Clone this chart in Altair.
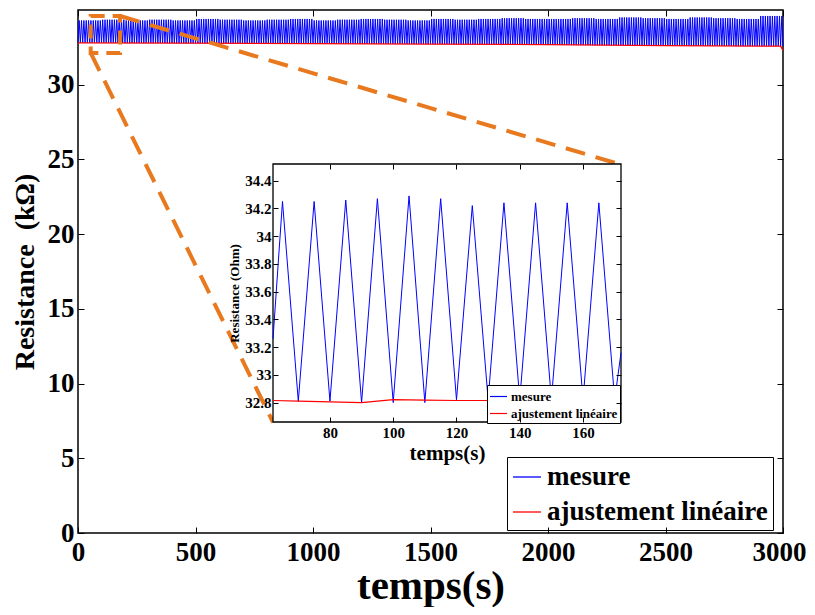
import altair as alt
import pandas as pd

FONT = "Liberation Serif"
ORANGE = "#E8791F"
BLUE = "#0000FF"
RED = "#FF0000"
SERIES = ["mesure", "ajustement linéaire"]

# ---------------- main chart values ----------------
# oscillation period 10 s: troughs at multiples of 10 s, peaks in between
main_window_s = 100
main_peak_levels = [34.30, 34.35, 34.30, 34.35, 34.30, 34.40, 34.35, 34.30, 34.35, 34.40,
                    34.30, 34.35, 34.40, 34.35, 34.30, 34.40, 34.35, 34.40, 34.45, 34.40,
                    34.40, 34.45, 34.40, 34.50, 34.45, 34.40, 34.50, 34.45, 34.40, 34.60]
main_trough_levels = [32.80, 32.80, 32.78, 32.78, 32.77, 32.77, 32.76, 32.76, 32.75, 32.75,
                      32.74, 32.74, 32.73, 32.73, 32.72, 32.72, 32.71, 32.70, 32.70, 32.68,
                      32.66, 32.65, 32.64, 32.63, 32.62, 32.60, 32.60, 32.60, 32.58, 32.58]
main_fit_t = [0, 500, 1000, 1500, 2000, 2500, 2990, 3000]
main_fit_v = [32.80, 32.78, 32.75, 32.72, 32.68, 32.62, 32.58, 32.30]

# ---------------- inset values ----------------
inset_peak_t = [65, 75, 85, 95, 105, 115, 125, 135, 145, 155, 165]
inset_peak_v = [34.25, 34.25, 34.26, 34.27, 34.29, 34.27, 34.22, 34.24, 34.24, 34.24, 34.24]
inset_trough_t = [70, 80, 90, 100, 110, 120, 130, 140, 150, 160, 170]
inset_trough_v = [32.81, 32.81, 32.80, 32.80, 32.80, 32.82, 32.82, 32.82, 32.82, 32.82, 32.82]
inset_start = [62, 33.26]
inset_end = [172, 33.16]
inset_fit_t = [62, 70, 80, 90, 100, 110, 120, 130, 172]
inset_fit_v = [32.815, 32.81, 32.805, 32.80, 32.822, 32.818, 32.815, 32.815, 32.815]

# ticks
main_x_ticks = [0, 500, 1000, 1500, 2000, 2500, 3000]
main_y_ticks = [0, 5, 10, 15, 20, 25, 30]
inset_x_ticks = [80, 100, 120, 140, 160]
inset_y_ticks = [32.8, 33.0, 33.2, 33.4, 33.6, 33.8, 34.0, 34.2, 34.4]

# zoom annotation (main-chart data coordinates)
zoom_x = [54, 179]
zoom_y = [32.13, 34.6]
conn_x = [54, 179]
conn_y = [32.13, 34.6]
conn_x2 = [830, 2311]
conn_y2 = [7.41, 24.65]

# ---------------- tables ----------------
mt, mv = [], []
for w in range(len(main_peak_levels)):
    for k in range(main_window_s // 10):
        t0 = w * main_window_s + 10 * k
        mt += [t0, t0 + 5]
        mv += [main_trough_levels[w], main_peak_levels[w]]
mt.append(3000)
mv.append(main_trough_levels[-1])
main_meas = pd.DataFrame({"t": mt, "R": mv, "s": SERIES[0]})
main_fit = pd.DataFrame({"t": main_fit_t, "R": main_fit_v, "s": SERIES[1]})

it, iv = [inset_start[0]], [inset_start[1]]
for a, b, c, d in zip(inset_peak_t, inset_peak_v, inset_trough_t, inset_trough_v):
    it += [a, c]
    iv += [b, d]
it.append(inset_end[0])
iv.append(inset_end[1])
inset_meas = pd.DataFrame({"t": it, "R": iv, "s": SERIES[0]})
inset_fit = pd.DataFrame({"t": inset_fit_t, "R": inset_fit_v, "s": SERIES[1]})

zoom_df = pd.DataFrame({"x": [zoom_x[0]], "x2": [zoom_x[1]], "y": [zoom_y[0]], "y2": [zoom_y[1]]})
conn_df = pd.DataFrame({"x": conn_x, "y": conn_y, "x2": conn_x2, "y2": conn_y2})
main_bounds = pd.DataFrame({"t": [0, 3000], "R": [0, 35]})
inset_frame = pd.DataFrame({"x": [62], "x2": [172], "y": [32.66], "y2": [34.52]})

# ---------------- scales ----------------
W, H = 705, 523
IN_L, IN_R, IN_T, IN_B = 195, 543, 154, 412


def xs_main():
    return alt.Scale(domain=[0, 3000], nice=False, zero=False)


def ys_main():
    return alt.Scale(domain=[0, 35], nice=False, zero=False)


def xs_in():
    return alt.Scale(domain=[62, 172], range=[IN_L, IN_R], nice=False, zero=False)


def ys_in():
    return alt.Scale(domain=[32.66, 34.52], range=[IN_B, IN_T], nice=False, zero=False)


def col_scale():
    return alt.Scale(domain=SERIES, range=[BLUE, RED])


common_lab = dict(labelFont=FONT, labelFontWeight="bold", labelColor="black",
                  tickColor="black", grid=False, domain=False, labelOverlap=False,
                  labelFlush=False,
                  titleFont=FONT, titleFontWeight="bold", titleColor="black", zindex=1)

main_x_axis = alt.Axis(orient="bottom", values=main_x_ticks, format="d", offset=-6, tickSize=6,
                       labelFontSize=27, labelPadding=6,
                       labelOffset={"condition": {"test": "datum.value == 3000", "value": -4},
                                    "value": 0},
                       title="temps(s)", titleFontSize=41,
                       titlePadding=1, **common_lab)
main_y_axis = alt.Axis(orient="left", values=main_y_ticks, format="d", offset=-6, tickSize=6,
                       labelFontSize=27, labelPadding=4, title="Resistance\u00a0 (kΩ)",
                       titleFontSize=28, titlePadding=8, **common_lab)
mirror_top = alt.Axis(orient="top", values=main_x_ticks, offset=-6, tickSize=6, labels=False,
                      title=None, tickColor="black", grid=False, domain=False, zindex=1)
mirror_right = alt.Axis(orient="right", values=main_y_ticks, offset=-6, tickSize=6, labels=False,
                        title=None, tickColor="black", grid=False, domain=False, zindex=1)

in_x_axis = alt.Axis(orient="bottom", values=inset_x_ticks, format="d", offset=-(H - IN_B) - 5,
                     tickSize=5, labelFontSize=15, labelPadding=3, title="temps(s)",
                     titleFontSize=21, titlePadding=2, **common_lab)
in_y_axis = alt.Axis(orient="left", values=inset_y_ticks, format="~g", offset=-(IN_L + 5),
                     tickSize=5, labelFontSize=15, labelPadding=2, title="Resistance (Ohm)",
                     titleFontSize=13, titlePadding=3, **common_lab)
in_top = alt.Axis(orient="top", values=inset_x_ticks, offset=-(IN_T + 5), tickSize=5, labels=False,
                  title=None, tickColor="black", grid=False, domain=False, zindex=1)
in_right = alt.Axis(orient="right", values=inset_y_ticks, offset=-(W - IN_R + 5), tickSize=5,
                    labels=False, title=None, tickColor="black", grid=False, domain=False, zindex=1)

main_legend = alt.Legend(title=None, orient="none", legendX=429, legendY=447, symbolType="stroke",
                         symbolSize=784, symbolStrokeWidth=1.3, labelFont=FONT, labelFontSize=27,
                         labelFontWeight="bold", labelColor="black", labelLimit=500, labelOffset=5,
                         fillColor="white", strokeColor="black", padding=5, rowPadding=7)
inset_legend = alt.Legend(title=None, orient="none", legendX=409, legendY=375, symbolType="stroke",
                          symbolSize=289, symbolStrokeWidth=1.2, labelFont=FONT, labelFontSize=13,
                          labelFontWeight="bold", labelColor="black", labelLimit=300, labelOffset=3,
                          fillColor="white", strokeColor="black", padding=2, rowPadding=0)

# ---------------- layers ----------------
l_main_meas = alt.Chart(main_meas).mark_line(strokeWidth=1).encode(
    x=alt.X("t:Q", scale=xs_main(), axis=main_x_axis),
    y=alt.Y("R:Q", scale=ys_main(), axis=main_y_axis),
    color=alt.Color("s:N", scale=col_scale(), legend=main_legend),
)
l_main_fit = alt.Chart(main_fit).mark_line(strokeWidth=1.3).encode(
    x=alt.X("t:Q", scale=xs_main(), axis=None),
    y=alt.Y("R:Q", scale=ys_main(), axis=None),
    color=alt.Color("s:N", scale=col_scale(), legend=None),
)
l_main_mirror = alt.Chart(main_bounds).mark_point(opacity=0, size=1).encode(
    x=alt.X("t:Q", scale=xs_main(), axis=mirror_top),
    y=alt.Y("R:Q", scale=ys_main(), axis=mirror_right),
)
l_zoom = alt.Chart(zoom_df).mark_rect(fillOpacity=0, stroke=ORANGE, strokeWidth=4,
                                      strokeDash=[14, 8]).encode(
    x=alt.X("x:Q", scale=xs_main(), axis=None), x2="x2:Q",
    y=alt.Y("y:Q", scale=ys_main(), axis=None), y2="y2:Q",
)
l_conn = alt.Chart(conn_df).mark_rule(stroke=ORANGE, strokeWidth=4, strokeDash=[20, 11]).encode(
    x=alt.X("x:Q", scale=xs_main(), axis=None), x2="x2:Q",
    y=alt.Y("y:Q", scale=ys_main(), axis=None), y2="y2:Q",
)
l_in_frame = alt.Chart(inset_frame).mark_rect(fill="white", stroke="black", strokeWidth=1.3).encode(
    x=alt.X("x:Q", scale=xs_in(), axis=in_x_axis), x2="x2:Q",
    y=alt.Y("y:Q", scale=ys_in(), axis=in_y_axis), y2="y2:Q",
)
l_in_meas = alt.Chart(inset_meas).mark_line(strokeWidth=1).encode(
    x=alt.X("t:Q", scale=xs_in(), axis=None),
    y=alt.Y("R:Q", scale=ys_in(), axis=None),
    color=alt.Color("s:N", scale=col_scale(), legend=inset_legend),
)
l_in_fit = alt.Chart(inset_fit).mark_line(strokeWidth=1.2).encode(
    x=alt.X("t:Q", scale=xs_in(), axis=None),
    y=alt.Y("R:Q", scale=ys_in(), axis=None),
    color=alt.Color("s:N", scale=col_scale(), legend=None),
)
l_in_mirror = alt.Chart(inset_frame).mark_point(opacity=0, size=1).encode(
    x=alt.X("x:Q", scale=xs_in(), axis=in_top),
    y=alt.Y("y:Q", scale=ys_in(), axis=in_right),
)

chart = alt.layer(
    l_main_meas, l_main_fit, l_main_mirror, l_zoom, l_conn,
    l_in_frame, l_in_meas, l_in_fit, l_in_mirror,
).resolve_scale(
    x="independent", y="independent", color="independent"
).resolve_axis(
    x="independent", y="independent"
).resolve_legend(
    color="independent"
).properties(
    width=W, height=H,
    padding={"left": 70, "top": 2, "right": 24, "bottom": 74},
    autosize=alt.AutoSizeParams(type="none"),
    background="white",
).configure_view(stroke="black", strokeWidth=1.5)

chart.save("out.html", embed_options={"renderer": "svg", "actions": False})
